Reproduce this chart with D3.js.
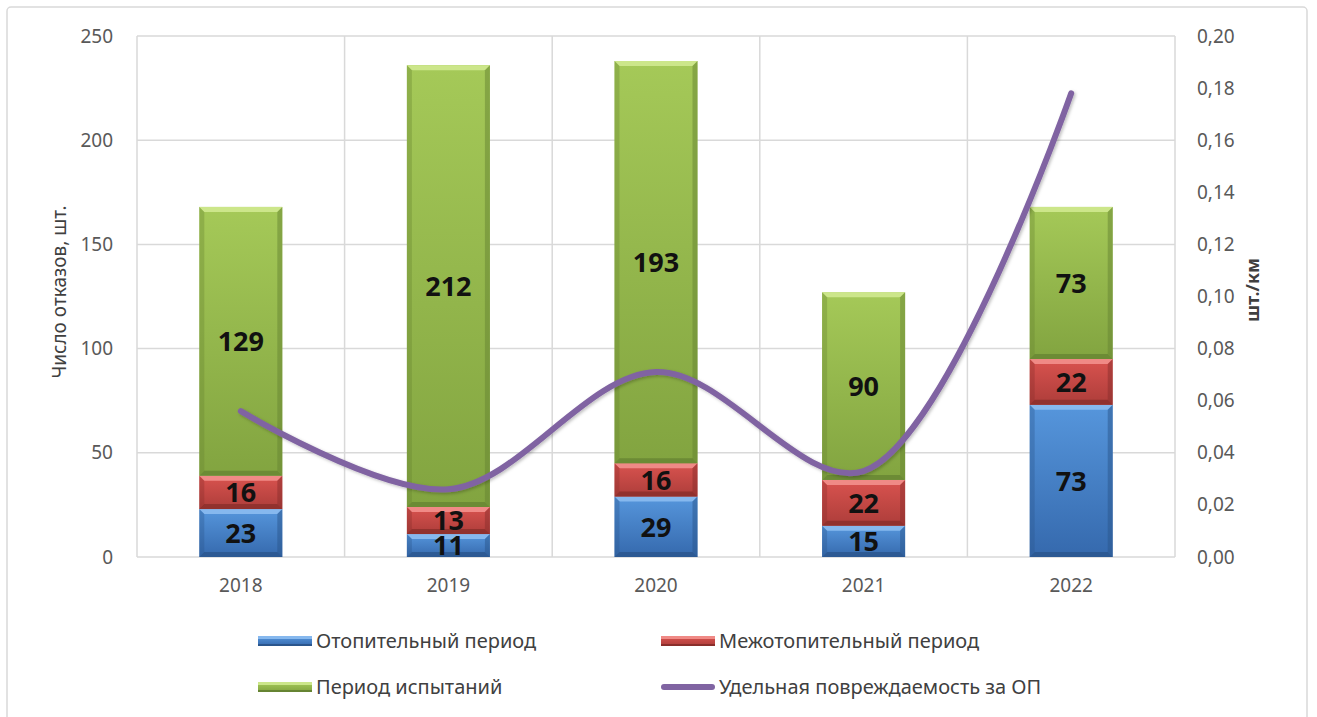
<!DOCTYPE html>
<html>
<head>
<meta charset="utf-8">
<script src="https://cdn.jsdelivr.net/npm/d3@7"></script>
<style>
  body { margin: 0; background: #fff; }
  svg text { font-family: "Noto Sans", "DejaVu Sans", sans-serif; }
</style>
</head>
<body>
<div id="chart"></div>
<script>
// Chart data
const years = ["2018", "2019", "2020", "2021", "2022"];
const heating = [23, 11, 29, 15, 73];        // Отопительный период
const interHeating = [16, 13, 16, 22, 22];   // Межотопительный период
const testing = [129, 212, 193, 90, 73];     // Период испытаний
const specificDamage = [0.056, 0.026, 0.071, 0.033, 0.178]; // Удельная повреждаемость за ОП
const leftTicks = [0, 50, 100, 150, 200, 250];
const rightTicks = [0, 0.02, 0.04, 0.06, 0.08, 0.10, 0.12, 0.14, 0.16, 0.18, 0.20];

const seriesNames = ["Отопительный период", "Межотопительный период", "Период испытаний"];
const lineName = "Удельная повреждаемость за ОП";

const width = 1317, height = 717;
const plot = { left: 137, top: 36, right: 1175, bottom: 557 };

const svg = d3.select("#chart").append("svg")
  .attr("width", width)
  .attr("height", height);

// Outer chart frame
svg.append("rect")
  .attr("x", 7).attr("y", 7)
  .attr("width", 1300).attr("height", 730)
  .attr("rx", 4)
  .attr("fill", "#fff")
  .attr("stroke", "#d9d9d9")
  .attr("stroke-width", 1.5);

const defs = svg.append("defs");

// Colour sets: top bevel, gradient light/dark, edge
const palettes = [
  { top: "#86b8ee", light: "#5696dc", dark: "#3569ad", edge: "#2a558c" },
  { top: "#f08a86", light: "#d9534f", dark: "#ad3d3a", edge: "#8a2e2b" },
  { top: "#cce68a", light: "#a5c958", dark: "#82a440", edge: "#668432" }
];

palettes.forEach((p, i) => {
  const g = defs.append("linearGradient")
    .attr("id", "grad" + i)
    .attr("x1", 0).attr("y1", 0).attr("x2", 0).attr("y2", 1);
  g.append("stop").attr("offset", "0%").attr("stop-color", p.light);
  g.append("stop").attr("offset", "100%").attr("stop-color", p.dark);
});

const shadow = defs.append("filter").attr("id", "lineShadow")
  .attr("x", "-10%").attr("y", "-10%").attr("width", "120%").attr("height", "120%");
shadow.append("feDropShadow")
  .attr("dx", 1.5).attr("dy", 1.5).attr("stdDeviation", 1.5)
  .attr("flood-color", "#000").attr("flood-opacity", 0.25);

// Scales
const x = d3.scaleBand()
  .domain(years)
  .range([plot.left, plot.right])
  .paddingInner(0.6)
  .paddingOuter(0.3);

const xCat = d3.scaleBand()
  .domain(years)
  .range([plot.left, plot.right]);

const y = d3.scaleLinear().domain([0, 250]).range([plot.bottom, plot.top]);
const y2 = d3.scaleLinear().domain([0, 0.20]).range([plot.bottom, plot.top]);

// Gridlines
const grid = svg.append("g");
grid.selectAll("line.h")
  .data(leftTicks.filter(d => d > 0))
  .enter().append("line")
  .attr("x1", plot.left).attr("x2", plot.right)
  .attr("y1", d => y(d)).attr("y2", d => y(d))
  .attr("stroke", "#d9d9d9").attr("stroke-width", 1.5);

grid.selectAll("line.v")
  .data(years)
  .enter().append("line")
  .attr("x1", d => xCat(d) + xCat.bandwidth()).attr("x2", d => xCat(d) + xCat.bandwidth())
  .attr("y1", plot.top).attr("y2", plot.bottom)
  .attr("stroke", "#d9d9d9").attr("stroke-width", 1.5);

grid.append("line")
  .attr("x1", plot.left).attr("x2", plot.left)
  .attr("y1", plot.top).attr("y2", plot.bottom)
  .attr("stroke", "#d9d9d9").attr("stroke-width", 1.5);

grid.append("line")
  .attr("x1", plot.left).attr("x2", plot.right)
  .attr("y1", plot.bottom).attr("y2", plot.bottom)
  .attr("stroke", "#d9d9d9").attr("stroke-width", 1.5);

// Stack the three series
const rows = years.map((yr, i) => ({ year: yr, s0: heating[i], s1: interHeating[i], s2: testing[i] }));
const stacked = d3.stack().keys(["s0", "s1", "s2"])(rows);

const bevel = 5;
const bars = svg.append("g");
const labels = [];

stacked.forEach((layer, si) => {
  const p = palettes[si];
  const lg = bars.append("g");
  layer.forEach(d => {
    const x0 = x(d.data.year), w = x.bandwidth();
    const yt = y(d[1]), yb = y(d[0]);
    const h = yb - yt;
    const b = Math.min(bevel, h / 3);
    const seg = lg.append("g");
    seg.append("rect")
      .attr("x", x0).attr("y", yt)
      .attr("width", w).attr("height", h)
      .attr("fill", `url(#grad${si})`);
    // top bevel
    seg.append("path")
      .attr("d", `M${x0},${yt}L${x0 + w},${yt}L${x0 + w - b},${yt + b}L${x0 + b},${yt + b}Z`)
      .attr("fill", p.top);
    // bottom bevel
    seg.append("path")
      .attr("d", `M${x0},${yb}L${x0 + w},${yb}L${x0 + w - b},${yb - b}L${x0 + b},${yb - b}Z`)
      .attr("fill", p.edge).attr("opacity", 0.8);
    // side bevels
    seg.append("path")
      .attr("d", `M${x0},${yt}L${x0 + b},${yt + b}L${x0 + b},${yb - b}L${x0},${yb}Z`)
      .attr("fill", p.edge).attr("opacity", 0.35);
    seg.append("path")
      .attr("d", `M${x0 + w},${yt}L${x0 + w - b},${yt + b}L${x0 + w - b},${yb - b}L${x0 + w},${yb}Z`)
      .attr("fill", p.edge).attr("opacity", 0.5);
    labels.push({ x: x0 + w / 2, y: (yt + yb) / 2, v: d[1] - d[0] });
  });
});

// Smoothed line on secondary axis
const line = d3.line()
  .x((d, i) => xCat(years[i]) + xCat.bandwidth() / 2)
  .y(d => y2(d))
  .curve(d3.curveCatmullRom.alpha(0.5));

svg.append("path")
  .datum(specificDamage)
  .attr("d", line)
  .attr("fill", "none")
  .attr("stroke", "#8064a2")
  .attr("stroke-width", 6)
  .attr("stroke-linecap", "round")
  .attr("filter", "url(#lineShadow)");

// Data labels
svg.append("g").selectAll("text")
  .data(labels)
  .enter().append("text")
  .attr("x", d => d.x)
  .attr("y", d => d.y)
  .attr("dy", "0.36em")
  .attr("text-anchor", "middle")
  .attr("font-size", 27)
  .attr("font-weight", "bold")
  .attr("fill", "#111")
  .text(d => d.v);

// Axes
const axisColor = "#595959";
const leftAxis = svg.append("g")
  .attr("transform", `translate(${plot.left},0)`)
  .call(d3.axisLeft(y).tickValues(leftTicks).tickSize(0).tickPadding(24));
leftAxis.select(".domain").remove();
leftAxis.selectAll("text").attr("font-size", 19).attr("fill", axisColor);

const rightAxis = svg.append("g")
  .attr("transform", `translate(${plot.right},0)`)
  .call(d3.axisRight(y2).tickValues(rightTicks).tickSize(0).tickPadding(22)
    .tickFormat(d => d3.format(".2f")(d).replace(".", ",")));
rightAxis.select(".domain").remove();
rightAxis.selectAll("text").attr("font-size", 19).attr("fill", axisColor);

const bottomAxis = svg.append("g")
  .attr("transform", `translate(0,${plot.bottom})`)
  .call(d3.axisBottom(xCat).tickSize(0).tickPadding(22));
bottomAxis.select(".domain").remove();
bottomAxis.selectAll("text").attr("font-size", 19).attr("fill", axisColor);

// Axis titles
svg.append("text")
  .attr("transform", "translate(66,292) rotate(-90)")
  .attr("text-anchor", "middle")
  .attr("font-size", 19)
  .attr("fill", "#404040")
  .text("Число отказов, шт.");

svg.append("text")
  .attr("transform", "translate(1259,290) rotate(-90)")
  .attr("text-anchor", "middle")
  .attr("font-size", 18)
  .attr("font-weight", "bold")
  .attr("fill", "#404040")
  .text("шт./км");

// Legend
const legendItems = [
  { name: seriesNames[0], type: "bar", p: 0, x: 258, y: 641 },
  { name: seriesNames[1], type: "bar", p: 1, x: 661, y: 641 },
  { name: seriesNames[2], type: "bar", p: 2, x: 258, y: 687 },
  { name: lineName, type: "line", x: 661, y: 687 }
];

const legend = svg.append("g");
legendItems.forEach(it => {
  const g = legend.append("g").attr("transform", `translate(${it.x},${it.y})`);
  if (it.type === "bar") {
    const p = palettes[it.p];
    g.append("rect").attr("x", 0).attr("y", -5).attr("width", 54).attr("height", 10)
      .attr("fill", `url(#grad${it.p})`);
    g.append("rect").attr("x", 0).attr("y", -5).attr("width", 54).attr("height", 3)
      .attr("fill", p.top);
    g.append("rect").attr("x", 0).attr("y", 3).attr("width", 54).attr("height", 2)
      .attr("fill", p.edge);
  } else {
    g.append("line").attr("x1", 3).attr("x2", 51).attr("y1", 0).attr("y2", 0)
      .attr("stroke", "#8064a2").attr("stroke-width", 6).attr("stroke-linecap", "round");
  }
  g.append("text")
    .attr("x", 58).attr("y", 0).attr("dy", "0.35em")
    .attr("font-size", 20)
    .attr("fill", "#404040")
    .text(it.name);
});
</script>
</body>
</html>
